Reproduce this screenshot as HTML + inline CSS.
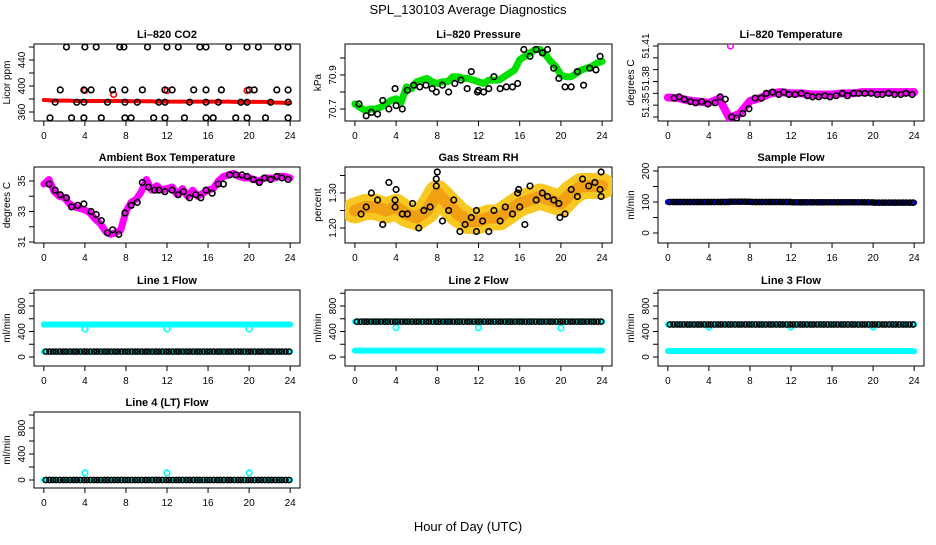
<!DOCTYPE html>
<html><head><meta charset="utf-8">
<style>
body{margin:0;background:#fff;width:936px;height:540px;overflow:hidden}
svg text{font-family:"Liberation Sans",Arial,sans-serif}
</style></head>
<body>
<svg id="c" width="936" height="540" viewBox="0 0 936 540" xmlns="http://www.w3.org/2000/svg">
<text x="468" y="14" text-anchor="middle" font-size="13">SPL_130103  Average Diagnostics</text>
<text x="468" y="531" text-anchor="middle" font-size="13">Hour of Day (UTC)</text>
</svg>
<script>
const hourTicks=[0,4,8,12,16,20,24];
const halfHours=[0,0.5,1,1.5,2,2.5,3,3.5,4,4.5,5,5.5,6,6.5,7,7.5,8,8.5,9,9.5,10,10.5,11,11.5,12,12.5,13,13.5,14,14.5,15,15.5,16,16.5,17,17.5,18,18.5,19,19.5,20,20.5,21,21.5,22,22.5,23,23.5,24];
const hourly=[0,1,2,3,4,5,6,7,8,9,10,11,12,13,14,15,16,17,18,19,20,21,22,23,24];

// CO2
const co2Red=[378.5,378,377.5,377.5,377.5,377.5,377,377,377,377,377,377,377,377,377,377,377,376.5,376.5,376.5,376.5,376.5,376,376,376,376,376,376,376,376,376,376,376,376,376,376,376,375.5,375.5,375.5,375.5,375.5,375.5,375.5,375.5,374.5,374.5,374,374];
const co2RedOutX=[4,6.8,12,19.8];
const co2RedOutY=[393,387,393,393];
const co2BlackX=[2.2,4,5.1,7.4,7.8,10.1,12,13.1,15.2,15.8,18,19.8,20.9,22.8,23.8,1.6,3.9,4.6,6.7,7.9,9.6,11.8,12.5,14.6,15.8,17.3,20,20.5,22.7,23.8,1.1,3.2,3.9,6.2,7.9,9.1,11.2,11.8,14.2,15.8,17,19.2,19.8,22.1,23.8,0.6,2.7,3.9,5.6,7.9,8.5,10.7,11.8,13.7,15.8,16.5,18.7,19.8,21.6,23.8];
const co2BlackY=[460,460,460,460,460,460,460,460,460,460,460,460,460,460,460,394,394,394,394,394,394,394,394,394,394,394,394,394,394,394,375,375,375,375,375,375,375,375,375,375,375,375,375,375,375,351,351,351,351,351,351,351,351,351,351,351,351,351,351,351];

// Pressure
const presGreen=[70.73,70.71,70.69,70.70,70.70,70.71,70.73,70.75,70.76,70.74,70.83,70.82,70.86,70.87,70.88,70.86,70.85,70.86,70.86,70.89,70.89,70.88,70.88,70.87,70.86,70.85,70.87,70.87,70.87,70.89,70.91,70.93,70.99,71.01,71.03,71.05,71.05,71.02,70.98,70.95,70.90,70.89,70.89,70.91,70.93,70.94,70.95,70.97,70.98];
const presBlackX=[0.4,1.1,1.6,2.2,2.7,3.3,3.9,4.0,4.6,5.1,5.7,6.3,6.9,7.5,7.9,8.5,9.1,9.7,10.3,10.9,11.3,11.9,12.0,12.5,13.0,13.5,14.1,14.7,15.3,15.8,16.4,17.0,17.6,18.2,18.7,19.3,19.8,20.4,21.0,21.6,22.2,22.8,23.4,23.8];
const presBlackY=[70.73,70.66,70.68,70.67,70.75,70.70,70.82,70.72,70.70,70.81,70.84,70.83,70.84,70.82,70.80,70.84,70.80,70.85,70.87,70.82,70.92,70.80,70.81,70.80,70.82,70.89,70.82,70.83,70.83,70.85,71.05,71.01,71.05,71.03,71.05,70.94,70.88,70.83,70.83,70.92,70.84,70.94,70.93,71.01];

// Li-820 temperature
const ltMag=[51.3665,51.366,51.364,51.363,51.362,51.3655,51.349,51.353,51.3635,51.366,51.370,51.371,51.370,51.370,51.369,51.369,51.369,51.370,51.370,51.371,51.371,51.371,51.371,51.371,51.371];
const ltOutX=[6.1];
const ltOutY=[51.41];
const ltBlackX=[0.6,1.1,1.6,2.2,2.7,3.3,3.9,4.6,5.1,5.6,6.2,6.7,7.3,7.9,8.5,9.1,9.6,10.2,10.8,11.3,11.8,12.4,13.0,13.6,14.1,14.7,15.3,15.8,16.4,17.0,17.5,18.1,18.6,19.2,19.8,20.4,20.9,21.5,22.1,22.7,23.2,23.8];
const ltBlackY=[51.366,51.367,51.365,51.363,51.362,51.363,51.361,51.362,51.367,51.365,51.350,51.349,51.353,51.357,51.366,51.366,51.370,51.371,51.369,51.371,51.369,51.369,51.370,51.368,51.367,51.367,51.368,51.367,51.368,51.370,51.368,51.370,51.370,51.370,51.370,51.369,51.369,51.370,51.369,51.369,51.370,51.369];

// Ambient box temperature
const btMag=[34.8,35.1,34.3,34.0,33.9,33.5,33.3,33.2,33.1,32.9,32.5,32.2,31.7,31.5,31.6,31.8,33.0,33.6,33.8,34.3,35.1,34.4,34.7,34.4,34.5,34.6,34.1,34.5,34.0,34.4,34.0,34.2,34.4,34.5,35.0,35.3,35.4,35.5,35.3,35.2,35.2,35.1,35.0,35.2,35.2,35.2,35.3,35.3,35.2];
const btBlackX=[0.5,1.1,1.6,2.2,2.7,3.3,3.9,4.6,5.1,5.6,6.2,6.7,7.3,7.9,8.5,9.1,9.6,10.2,10.8,11.2,11.8,12.5,13.1,13.6,14.2,14.8,15.3,15.8,16.4,17.0,17.5,18.1,18.7,19.3,19.8,20.4,21.0,21.5,22.1,22.7,23.2,23.8];
const btBlackY=[34.8,34.4,34.1,33.9,33.3,33.4,33.5,33.0,32.8,32.4,31.6,31.8,31.5,32.9,33.4,33.6,34.9,34.6,34.4,34.4,34.3,34.4,34.1,34.3,33.9,34.1,33.9,34.4,34.2,34.8,34.8,35.4,35.4,35.4,35.3,35.1,34.9,35.2,35.1,35.3,35.2,35.1];

// Gas stream RH
const rhCloud=[1.25,1.26,1.26,1.25,1.26,1.24,1.23,1.25,1.30,1.27,1.24,1.22,1.22,1.23,1.23,1.25,1.27,1.28,1.29,1.28,1.27,1.30,1.32,1.32,1.32];
const rhBlackX=[0.6,1.1,1.6,2.2,2.7,3.3,3.9,3.9,4.0,4.6,5.1,5.6,6.2,6.7,7.3,7.9,7.9,8.0,8.5,9.1,9.6,10.2,10.7,11.3,11.8,11.8,12.4,13.0,13.5,14.1,14.6,15.3,15.8,15.9,16.0,16.5,17.0,17.6,18.2,18.7,19.3,19.8,19.9,20.4,21.0,21.6,22.1,22.7,23.3,23.8,23.9,23.9];
const rhBlackY=[1.24,1.26,1.30,1.28,1.21,1.33,1.26,1.28,1.31,1.24,1.24,1.27,1.20,1.25,1.26,1.34,1.32,1.36,1.22,1.25,1.28,1.19,1.21,1.23,1.25,1.19,1.22,1.19,1.25,1.22,1.26,1.24,1.30,1.31,1.26,1.21,1.32,1.28,1.30,1.29,1.28,1.27,1.23,1.24,1.31,1.29,1.34,1.32,1.33,1.31,1.36,1.29];

// Flows
const sampleBand=[100,100,100,100,100,100,101,101,100,100,100,100,99,99,99,99,99,99,99,99,98,98,98,98,98];
const line1High=[510,510,510,510,510,510,510,510,510,510,510,510,510,510,510,510,510,510,510,510,510,510,510,510,510];
const line1Low=[85,85,85,85,85,85,85,85,85,85,85,85,85,85,85,85,85,85,85,85,85,85,85,85,85];
const line2High=[555,555,555,555,555,555,555,555,555,555,555,555,555,555,555,555,555,555,555,555,555,555,555,555,555];
const line2Low=[100,100,100,100,100,100,100,100,100,100,100,100,100,100,100,100,100,100,100,100,100,100,100,100,100];
const line3High=[510,510,510,510,510,510,510,510,510,510,510,510,510,510,510,510,510,510,510,510,510,510,510,510,510];
const line3Low=[95,95,95,95,95,95,95,95,95,95,95,95,95,95,95,95,95,95,95,95,95,95,95,95,90];
const line4Band=[0,0,0,0,0,0,0,0,0,0,0,0,0,0,0,0,0,0,0,0,0,0,0,0,0];
const flowOutX=[4,12,20];
const line1Out=[440,440,440];
const line2Out=[460,460,455];
const line3Out=[470,470,470];
const line4Out=[110,110,110];

const NS='http://www.w3.org/2000/svg';
const svg=document.getElementById('c');
function mk(tag,attrs,parent){const e=document.createElementNS(NS,tag);for(const k in attrs)e.setAttribute(k,attrs[k]);(parent||svg).appendChild(e);return e;}

const cols=[[34,300],[345,612],[658,924]];
const rows=[[44,121],[167,243],[290,366],[412,488]];

function panel(name,col,row,title,ylab,va,ya,vb,yb,ticks,labels,labelTexts){
  const [L,R]=cols[col],[T,B]=rows[row];
  const g=mk('g',{});
  
  
  const xs=h=>L+(h+0.96)/25.92*(R-L);
  const ys=v=>ya+(v-va)*(yb-ya)/(vb-va);
  const box=mk('rect',{x:L,y:T,width:R-L,height:B-T,fill:'none',stroke:'#000','stroke-width':1},g);
  
  
  const t=mk('text',{x:(L+R)/2,y:T-6,'text-anchor':'middle','font-size':11,'font-weight':'bold'},g);
  t.textContent=title;
  
  
  const yt=mk('text',{x:L-24,y:(T+B)/2,'text-anchor':'middle','font-size':10,transform:`rotate(-90 ${L-24} ${(T+B)/2})`},g);
  yt.textContent=ylab;
  
  
  hourTicks.forEach(h=>{
    const x=xs(h);
    mk('line',{x1:x,y1:B,x2:x,y2:B+5,stroke:'#000'},g);
    const tx=mk('text',{x:x,y:B+18,'text-anchor':'middle','font-size':10},g);
    tx.textContent=h;
    
    
  });
  ticks.forEach(v=>{
    const y=ys(v);
    mk('line',{x1:L,y1:y,x2:L-5,y2:y,stroke:'#000'},g);
  });
  labels.forEach((v,i)=>{
    const y=ys(v);
    const tx=mk('text',{x:L-9,y:y,'text-anchor':'middle','font-size':10,transform:`rotate(-90 ${L-9} ${y})`},g);
    tx.textContent=labelTexts[i];
    
    
  });
  const clip='clip-'+name;
  const cp=mk('clipPath',{id:clip},g);
  mk('rect',{x:L,y:T,width:R-L,height:B-T},cp);
  const data=mk('g',{'clip-path':`url(#${clip})`},g);
  return {xs,ys,g:data};
}
function band(p,hours,vals,color,w,name){
  const pts=hours.map((h,i)=>p.xs(h)+','+p.ys(vals[i])).join(' ');
  const e=mk('polyline',{points:pts,fill:'none',stroke:color,'stroke-width':w,'stroke-linejoin':'round','stroke-linecap':'round'},p.g);
  
  
}
function pts(p,xv,yv,color,r,name,sw){
  xv.forEach((h,i)=>{
    const e=mk('circle',{cx:p.xs(h),cy:p.ys(yv[i]),r:r,fill:'none',stroke:color,'stroke-width':sw||1.6},p.g);
    
    
  });
}
function blackLine(p,vals,name){
  const xsArr=[], ysArr=[];
  hourly.forEach((h,i)=>{ if(h<24){ [0.6,0.95,1.3].forEach(o=>{xsArr.push(h+o-0.4);ysArr.push(vals[i]);}); } });
  pts(p,xsArr,ysArr,'#000',2.6,name,1.5);
}

// Row 1
let p=panel('co2',0,0,'Li\u2013820 CO2','Licor ppm',360,112,440,60,[360,380,400,420,440,460],[360,400,440],['360','400','440']);
band(p,halfHours,co2Red,'#ff0000',4,'co2-band');
pts(p,co2RedOutX,co2RedOutY,'#ff0000',2.8,'co2-red-point');
pts(p,co2BlackX,co2BlackY,'#000',2.8,'co2-avg-point');

p=panel('pressure',1,0,'Li\u2013820 Pressure','kPa',70.7,109,70.9,75,[70.7,70.8,70.9,71.0],[70.7,70.9],['70.7','70.9']);
band(p,halfHours,presGreen,'#00e000',7,'pressure-band');
pts(p,presBlackX,presBlackY,'#000',2.8,'pressure-avg-point');

p=panel('li-temp',2,0,'Li\u2013820 Temperature','degrees C',51.41,46,51.35,117,[51.35,51.36,51.37,51.38,51.39,51.40,51.41],[51.36,51.3825,51.41],['51.35','51.38','51.41']);
band(p,hourly,ltMag,'#ff00ff',8,'li-temp-band');
pts(p,ltOutX,ltOutY,'#ff00ff',2.8,'li-temp-outlier');
pts(p,ltBlackX,ltBlackY,'#000',2.8,'li-temp-avg-point');

// Row 2
p=panel('box-temp',0,1,'Ambient Box Temperature','degrees C',35,181,31,242,[31,32,33,34,35],[31,33,35],['31','33','35']);
band(p,halfHours,btMag,'#ff00ff',7,'box-temp-band');
pts(p,btBlackX,btBlackY,'#000',2.8,'box-temp-avg-point');

p=panel('rh',1,1,'Gas Stream RH','percent',1.30,193,1.20,228,[1.20,1.25,1.30,1.35],[1.20,1.30],['1.20','1.30']);
band(p,hourly,rhCloud,'#f8c820',26,'rh-cloud');
band(p,hourly,rhCloud,'#f0a010',12,'rh-cloud-core');
pts(p,rhBlackX,rhBlackY,'#000',2.8,'rh-avg-point');

p=panel('sample-flow',2,1,'Sample Flow','ml/min',0,233,200,171,[0,50,100,150,200],[0,100,200],['0','100','200']);
band(p,hourly,sampleBand,'#0000ff',6,'sample-flow-band');
blackLine(p,sampleBand,'sample-flow-avg-point');

// Row 3
const fT=[0,200,400,600,800,1000];
p=panel('line1',0,2,'Line 1 Flow','ml/min',0,357,400,331.5,fT,[0,400,800],['0','400','800']);
band(p,hourly,line1High,'#00ffff',6,'line1-band');
band(p,hourly,line1Low,'#00ffff',6,'line1-low-band');
pts(p,flowOutX,line1Out,'#00ffff',2.8,'line1-outlier');
blackLine(p,line1Low,'line1-avg-point');

p=panel('line2',1,2,'Line 2 Flow','ml/min',0,357,400,331.5,fT,[0,400,800],['0','400','800']);
band(p,hourly,line2Low,'#00ffff',6,'line2-low-band');
band(p,hourly,line2High,'#00ffff',6,'line2-band');
pts(p,flowOutX,line2Out,'#00ffff',2.8,'line2-outlier');
blackLine(p,line2High,'line2-avg-point');

p=panel('line3',2,2,'Line 3 Flow','ml/min',0,357,400,331.5,fT,[0,400,800],['0','400','800']);
band(p,hourly,line3Low,'#00ffff',6,'line3-low-band');
band(p,hourly,line3High,'#00ffff',6,'line3-band');
pts(p,flowOutX,line3Out,'#00ffff',2.8,'line3-outlier');
blackLine(p,line3High,'line3-avg-point');

// Row 4
p=panel('line4',0,3,'Line 4 (LT) Flow','ml/min',0,480,800,428,fT,[0,400,800],['0','400','800']);
band(p,hourly,line4Band,'#00ffff',6,'line4-band');
pts(p,flowOutX,line4Out,'#00ffff',2.8,'line4-outlier');
blackLine(p,line4Band,'line4-avg-point');
</script>
</body></html>
